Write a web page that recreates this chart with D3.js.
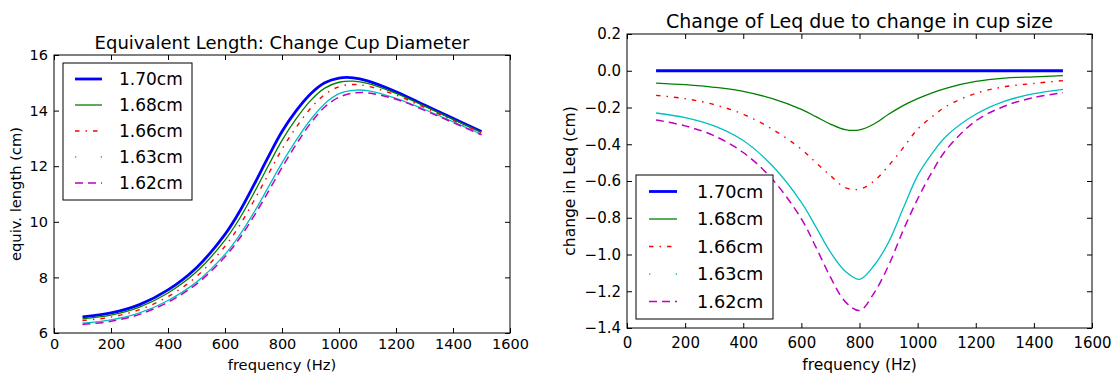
<!DOCTYPE html>
<html><head><meta charset="utf-8">
<script src="https://cdn.jsdelivr.net/npm/d3@7"></script>
<style>body{margin:0;background:#fff}svg{display:block;font-family:"DejaVu Sans",sans-serif;background:#fff}</style>
</head><body><svg id="c" width="1112" height="374"></svg>
<script>
// ---------- data ----------
const freq = [100,200,300,400,500,600,650,700,750,800,850,900,950,1000,1050,1100,1200,1300,1400,1500];
const seriesLabels = ["1.70cm","1.68cm","1.66cm","1.63cm","1.62cm"];

// equivalent length (cm)
const leq170 = [6.58,6.72,7.02,7.55,8.35,9.55,10.35,11.30,12.30,13.25,14.00,14.60,15.00,15.17,15.18,15.07,14.68,14.20,13.72,13.25];
const leq168 = [6.51,6.64,6.93,7.44,8.20,9.34,10.10,11.01,11.98,12.93,13.71,14.36,14.81,15.02,15.06,14.98,14.62,14.16,13.69,13.22];
const leq166 = [6.45,6.57,6.84,7.31,8.03,9.12,9.85,10.73,11.67,12.61,13.40,14.08,14.58,14.86,14.94,14.88,14.56,14.11,13.65,13.20];
const leq163 = [6.35,6.47,6.72,7.17,7.83,8.83,9.50,10.31,11.21,12.12,12.94,13.67,14.25,14.61,14.73,14.72,14.44,14.04,13.60,13.15];
const leq162 = [6.31,6.42,6.67,7.11,7.76,8.74,9.39,10.18,11.05,11.95,12.79,13.54,14.13,14.48,14.63,14.64,14.41,14.01,13.57,13.13];

// change in Leq (cm)
const dLeq170 = [0,0,0,0,0,0,0,0,0,0,0,0,0,0,0,0,0,0,0,0];
const dLeq168 = [-0.067,-0.076,-0.090,-0.112,-0.152,-0.210,-0.250,-0.290,-0.320,-0.322,-0.290,-0.237,-0.190,-0.152,-0.120,-0.094,-0.058,-0.040,-0.033,-0.027];
const dLeq166 = [-0.134,-0.152,-0.184,-0.237,-0.318,-0.427,-0.500,-0.571,-0.635,-0.645,-0.600,-0.517,-0.420,-0.318,-0.250,-0.192,-0.123,-0.087,-0.069,-0.054];
const dLeq163 = [-0.230,-0.255,-0.300,-0.380,-0.517,-0.716,-0.850,-0.987,-1.090,-1.135,-1.060,-0.933,-0.750,-0.571,-0.450,-0.354,-0.237,-0.165,-0.125,-0.101];
const dLeq162 = [-0.268,-0.300,-0.354,-0.445,-0.590,-0.806,-0.960,-1.123,-1.255,-1.305,-1.210,-1.060,-0.870,-0.698,-0.550,-0.427,-0.273,-0.192,-0.146,-0.119];

const xTicks = [0,200,400,600,800,1000,1200,1400,1600];
const leftYTicks = [6,8,10,12,14,16];
const rightYTicks = [0.2,0.0,-0.2,-0.4,-0.6,-0.8,-1.0,-1.2,-1.4];

// ---------- styles ----------
const styles = [
  {color:"#0000ff", width:2.8, dash:null},
  {color:"#008000", width:1.3, dash:null},
  {color:"#ff0000", width:1.4, dash:"4.5,6,1.5,6"},
  {color:"#00bfbf", width:1.3, dash:null, legendDots:true},
  {color:"#bf00bf", width:1.5, dash:"8,5"}
];

const svg = d3.select("#c");

const charts = [
  {series:[leq170,leq168,leq166,leq163,leq162], x0:54,x1:510,y0:55,y1:333, ydom:[6,16], yTicks:leftYTicks, yfmt:d3.format("d"),
   title:"Equivalent Length: Change Cup Diameter", titleY:49, titleSize:18, tickSize:14.5, xtickBase:16, labelSize:14.7,
   ylabel:"equiv. length (cm)", ylabelX:21, xlabelY:370,
   legend:{x:63,y:63,w:129,h:137,row0:79,step:26,lx0:75,lx1:102,tx:119,font:17}},
  {series:[dLeq170,dLeq168,dLeq166,dLeq163,dLeq162], x0:627,x1:1092,y0:34,y1:328, ydom:[-1.4,0.2], yTicks:rightYTicks, yfmt:d3.format(".1f"),
   title:"Change of Leq due to change in cup size", titleY:28, titleSize:19, tickSize:15, xtickBase:19.5, labelSize:15.5,
   ylabel:"change in Leq (cm)", ylabelX:574.5, xlabelY:370,
   legend:{x:636,y:175,w:137,h:144,row0:191.5,step:27.5,lx0:649,lx1:677,tx:697,font:17.7}}
];

charts.forEach(c => {
  const x = d3.scaleLinear().domain([0,1600]).range([c.x0,c.x1]);
  const y = d3.scaleLinear().domain(c.ydom).range([c.y1,c.y0]);
  const g = svg.append("g");

  // lines
  const line = d3.line().x((d,i)=>x(freq[i])).y(d=>y(d)).curve(d3.curveCatmullRom.alpha(0.5));
  c.series.forEach((s,k) => {
    const st = styles[k];
    g.append("path").attr("d", line(s)).attr("fill","none")
      .attr("stroke", st.color).attr("stroke-width", st.width)
      .attr("stroke-dasharray", st.dash).attr("stroke-linejoin","round");
  });

  // axes (inward ticks on all sides)
  const ax = g.append("g").attr("transform",`translate(0,${c.y1})`)
    .call(d3.axisBottom(x).tickValues(xTicks).tickSize(-5).tickPadding(4).tickFormat(d3.format("d")));
  ax.selectAll("text").attr("y", c.xtickBase).attr("dy", 0);
  g.append("g").attr("transform",`translate(0,${c.y0})`)
    .call(d3.axisTop(x).tickValues(xTicks).tickSize(-5).tickFormat(""));
  g.append("g").attr("transform",`translate(${c.x0},0)`)
    .call(d3.axisLeft(y).tickValues(c.yTicks).tickSize(-5).tickPadding(6).tickFormat(c.yfmt));
  g.append("g").attr("transform",`translate(${c.x1},0)`)
    .call(d3.axisRight(y).tickValues(c.yTicks).tickSize(-5).tickFormat(""));
  g.selectAll(".domain").remove();
  g.selectAll(".tick line").attr("stroke","#000").attr("stroke-width",1);
  g.selectAll(".tick text").attr("font-size", c.tickSize).attr("font-family","DejaVu Sans").attr("fill","#000");

  // frame
  g.append("rect").attr("x",c.x0).attr("y",c.y0).attr("width",c.x1-c.x0).attr("height",c.y1-c.y0)
    .attr("fill","none").attr("stroke","#000").attr("stroke-width",1);

  // title & labels
  g.append("text").attr("x",(c.x0+c.x1)/2).attr("y",c.titleY).attr("text-anchor","middle")
    .attr("font-size",c.titleSize).text(c.title);
  g.append("text").attr("x",(c.x0+c.x1)/2).attr("y",c.xlabelY).attr("text-anchor","middle")
    .attr("font-size",c.labelSize).text("frequency (Hz)");
  g.append("text").attr("transform",`translate(${c.ylabelX},${(c.y0+c.y1)/2}) rotate(-90)`)
    .attr("text-anchor","middle").attr("font-size",c.labelSize).text(c.ylabel);

  // legend
  const L = c.legend;
  const lg = g.append("g");
  lg.append("rect").attr("x",L.x).attr("y",L.y).attr("width",L.w).attr("height",L.h)
    .attr("fill","#fff").attr("stroke","#000").attr("stroke-width",1);
  seriesLabels.forEach((lab,k) => {
    const st = styles[k];
    const yy = L.row0 + k*L.step;
    if (st.legendDots) {
      [L.lx0, L.lx1-1.3].forEach(px => lg.append("line").attr("x1",px).attr("x2",px+1.3)
        .attr("y1",yy).attr("y2",yy).attr("stroke",st.color).attr("stroke-width",st.width));
    } else {
      lg.append("line").attr("x1",L.lx0).attr("x2",L.lx1).attr("y1",yy).attr("y2",yy)
        .attr("stroke",st.color).attr("stroke-width",st.width).attr("stroke-dasharray",st.dash);
    }
    lg.append("text").attr("x",L.tx).attr("y",yy).attr("dy","0.36em")
      .attr("font-size",L.font).text(lab);
  });
});
</script></body></html>
